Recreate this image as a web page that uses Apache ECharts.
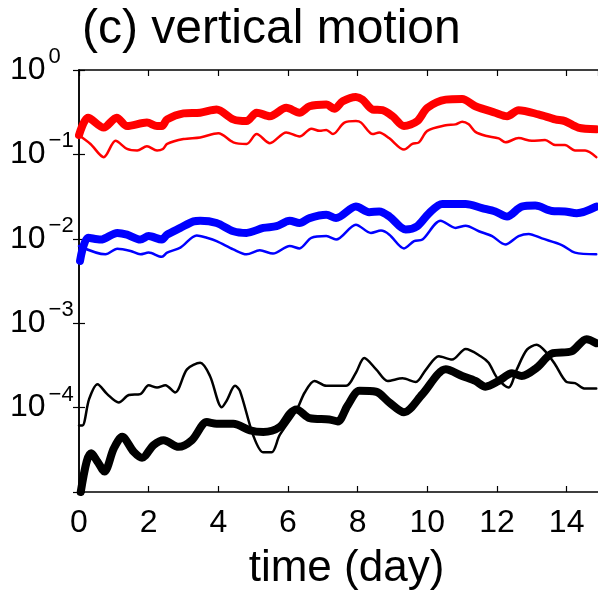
<!DOCTYPE html>
<html><head><meta charset="utf-8">
<script src="https://cdn.jsdelivr.net/npm/echarts@6/dist/echarts.min.js"></script>
<style>html,body{margin:0;padding:0;background:#fff}#c{width:598px;height:596px}</style>
</head><body><div id="c"></div>
<script>
const titleText = '(c) vertical motion';
const xLabel = 'time (day)';
const xTicks = [0, 2, 4, 6, 8, 10, 12, 14];
const yTickExponents = [0, -1, -2, -3, -4];

// [day, value]
const redThick = [[0,0.169],[0.26,0.272],[0.71,0.208],[1.08,0.272],[1.38,0.217],[1.95,0.238],[2.24,0.217],[2.38,0.217],[2.53,0.26],[3.0,0.306],[3.48,0.312],[3.95,0.34],[4.43,0.26],[4.81,0.248],[5.1,0.312],[5.48,0.284],[5.95,0.356],[6.33,0.312],[6.62,0.372],[7.1,0.39],[7.33,0.347],[7.57,0.426],[7.95,0.48],[8.14,0.446],[8.43,0.34],[8.71,0.334],[9.0,0.284],[9.33,0.217],[9.71,0.248],[10.0,0.356],[10.53,0.446],[11.0,0.454],[11.38,0.372],[11.95,0.312],[12.29,0.284],[12.62,0.334],[13.19,0.298],[13.67,0.26],[13.95,0.248],[14.33,0.208],[14.85,0.199]];
const redThin = [[0,0.169],[0.33,0.133],[0.71,0.0927],[1.05,0.145],[1.38,0.116],[1.67,0.111],[1.95,0.125],[2.24,0.111],[2.41,0.116],[2.53,0.133],[3.0,0.152],[3.48,0.159],[4.0,0.178],[4.43,0.139],[4.81,0.133],[5.1,0.174],[5.48,0.136],[5.95,0.182],[6.33,0.163],[6.67,0.202],[6.91,0.19],[7.1,0.195],[7.29,0.174],[7.62,0.238],[7.95,0.248],[8.1,0.238],[8.43,0.174],[8.62,0.182],[8.91,0.155],[9.33,0.114],[9.57,0.133],[9.76,0.139],[10.0,0.19],[10.53,0.221],[10.81,0.227],[11.0,0.244],[11.19,0.227],[11.38,0.185],[11.67,0.166],[12.05,0.155],[12.24,0.139],[12.62,0.156],[13.0,0.145],[13.38,0.148],[13.67,0.129],[13.95,0.129],[14.24,0.111],[14.53,0.111],[14.85,0.0927]];
const blueThick = [[0.03,0.00548],[0.26,0.01027],[0.62,0.0098],[1.1,0.01175],[1.38,0.0112],[1.76,0.0098],[2.0,0.01076],[2.38,0.0098],[2.53,0.0112],[2.91,0.01346],[3.29,0.0161],[3.48,0.01637],[3.95,0.01538],[4.43,0.0123],[4.81,0.01175],[5.29,0.01346],[5.67,0.0141],[6.05,0.01637],[6.33,0.01538],[6.62,0.0176],[7.1,0.01924],[7.38,0.0176],[7.95,0.0241],[8.33,0.0207],[8.62,0.0211],[8.91,0.0184],[9.38,0.01285],[9.71,0.0141],[10.05,0.0201],[10.43,0.0259],[11.1,0.0259],[11.57,0.0231],[11.95,0.0211],[12.29,0.0184],[12.71,0.0241],[13.1,0.0248],[13.57,0.0214],[13.95,0.0211],[14.29,0.0201],[14.85,0.0241]];
const blueThin = [[0,0.00822],[0.76,0.00655],[1.1,0.00764],[1.48,0.00718],[1.76,0.00655],[2.0,0.00686],[2.38,0.00611],[2.53,0.00686],[2.91,0.00785],[3.38,0.01094],[3.67,0.01027],[3.95,0.0094],[4.43,0.0075],[4.81,0.00655],[5.19,0.0073],[5.57,0.00668],[6.05,0.00822],[6.33,0.0077],[6.67,0.01027],[7.1,0.01076],[7.38,0.0098],[7.95,0.0147],[8.38,0.01175],[8.67,0.0125],[8.91,0.0112],[9.33,0.0077],[9.62,0.0094],[9.86,0.0098],[10.38,0.01637],[10.81,0.01346],[11.1,0.0143],[11.48,0.0123],[11.86,0.01076],[12.24,0.00857],[12.62,0.01076],[12.91,0.01143],[13.29,0.0101],[13.86,0.00843],[14.24,0.00686],[14.85,0.00655]];
const blackThick = [[0.05,0.00001],[0.22,2.29e-5],[0.35,2.87e-5],[0.53,2.29e-5],[0.73,1.75e-5],[1.0,3.29e-5],[1.24,4.5e-5],[1.57,3.0e-5],[1.81,2.55e-5],[2.14,3.6e-5],[2.43,4.11e-5],[2.86,3.43e-5],[3.24,4.11e-5],[3.67,6.73e-5],[3.95,6.44e-5],[4.43,6.44e-5],[4.91,5.38e-5],[5.29,5.14e-5],[5.76,5.89e-5],[6.05,8.43e-5],[6.24,9.48e-5],[6.62,7.5e-5],[7.19,7.24e-5],[7.43,6.86e-5],[7.71,1.055e-4],[8.05,1.58e-4],[8.53,1.54e-4],[8.91,1.15e-4],[9.33,8.8e-5],[9.86,1.445e-4],[10.53,2.84e-4],[11.0,2.37e-4],[11.38,2.07e-4],[11.67,1.77e-4],[12.05,2.07e-4],[12.43,2.55e-4],[12.71,2.37e-4],[13.14,2.96e-4],[13.57,4.36e-4],[14.14,4.64e-4],[14.57,6.47e-4],[14.85,5.8e-4]];
const blackThin = [[0,6.15e-5],[0.1,6.15e-5],[0.29,1.26e-4],[0.53,1.89e-4],[0.81,1.445e-4],[1.14,1.15e-4],[1.43,1.41e-4],[1.76,1.445e-4],[2.0,1.84e-4],[2.24,1.73e-4],[2.48,1.84e-4],[2.76,1.51e-4],[3.1,2.84e-4],[3.48,3.39e-4],[3.76,2.37e-4],[4.1,1.01e-4],[4.24,1.21e-4],[4.48,1.81e-4],[4.62,1.58e-4],[5.0,4.71e-5],[5.29,2.95e-5],[5.53,2.95e-5],[5.76,4.71e-5],[6.24,9.22e-5],[6.48,1.51e-4],[6.76,2.07e-4],[7.1,1.81e-4],[7.67,1.81e-4],[7.95,2.59e-4],[8.19,3.87e-4],[8.53,2.84e-4],[8.86,2.07e-4],[9.29,2.22e-4],[9.67,2.01e-4],[9.95,2.78e-4],[10.33,4.06e-4],[10.71,3.71e-4],[11.1,4.94e-4],[11.53,4.06e-4],[11.76,3.39e-4],[12.0,2.26e-4],[12.33,1.73e-4],[12.57,2.84e-4],[12.86,4.86e-4],[13.14,5.56e-4],[13.43,4.43e-4],[13.67,3.24e-4],[14.0,2.01e-4],[14.24,1.95e-4],[14.53,1.68e-4],[14.85,1.68e-4]];

const FONT = 'Liberation Sans, Arial, Helvetica, sans-serif';
const chart = echarts.init(document.getElementById('c'), null, {renderer: 'canvas'});

function yFmt(v) {
  const e = Math.round(Math.log10(v));
  if (yTickExponents.indexOf(e) < 0) return '';
  const s = e < 0 ? '\u2212' + (-e) : String(e);
  return '{b|10}{s|' + s + '}';
}
const axisLineStyle = {color: '#000', width: 1.5};
const tickStyle = {show: true, inside: true, length: 6, lineStyle: {color: '#000', width: 1.2}};

function line(data, color, width) {
  return {type: 'line', data: data, xAxisIndex: 0, yAxisIndex: 0, showSymbol: false, smooth: 0.3,
    lineStyle: {color: color, width: width, cap: 'round', join: 'round'}, itemStyle: {color: color}, silent: true};
}

chart.setOption({
  animation: false,
  backgroundColor: '#fff',
  title: {text: titleText, left: 77, top: 1, textStyle: {fontFamily: FONT, fontSize: 48, fontWeight: 'normal', color: '#000'}},
  grid: {left: 79, top: 70, width: 521, height: 427.5, containLabel: false},
  xAxis: [
    {type: 'value', min: 0, max: 14.9, interval: 2, position: 'bottom',
     axisLine: {lineStyle: axisLineStyle}, axisTick: tickStyle, splitLine: {show: false},
     axisLabel: {showMaxLabel: false, margin: 15, fontFamily: FONT, fontSize: 32, color: '#000',
       formatter: v => (xTicks.indexOf(v) >= 0 ? String(v) : '')},
     name: xLabel, nameLocation: 'middle', nameGap: 55,
     nameTextStyle: {fontFamily: FONT, fontSize: 44, color: '#000', padding: [0, 0, 0, 16]}},
    {type: 'value', min: 0, max: 14.9, interval: 2, position: 'top',
     axisLine: {lineStyle: axisLineStyle}, axisTick: tickStyle, axisLabel: {show: false}, splitLine: {show: false}}
  ],
  yAxis: [
    {type: 'log', logBase: 10, min: 1e-5, max: 1, position: 'left',
     axisLine: {lineStyle: axisLineStyle}, axisTick: tickStyle, splitLine: {show: false}, minorTick: {show: false},
     axisLabel: {margin: 69, align: 'left', formatter: yFmt, color: '#000',
       rich: {b: {fontFamily: FONT, fontSize: 32, color: '#000'},
              s: {fontFamily: FONT, fontSize: 22, color: '#000', padding: [0, 0, 26, 3]}}}},
    {type: 'log', logBase: 10, min: 1e-5, max: 1, position: 'right',
     axisLine: {lineStyle: axisLineStyle}, axisTick: tickStyle, axisLabel: {show: false}, splitLine: {show: false}}
  ],
  series: [
    line(redThin, '#ff0000', 2.5),
    line(redThick, '#ff0000', 8),
    line(blueThin, '#0000ff', 2.5),
    line(blueThick, '#0000ff', 8),
    line(blackThin, '#000000', 2.5),
    line(blackThick, '#000000', 8)
  ]
});
</script></body></html>
